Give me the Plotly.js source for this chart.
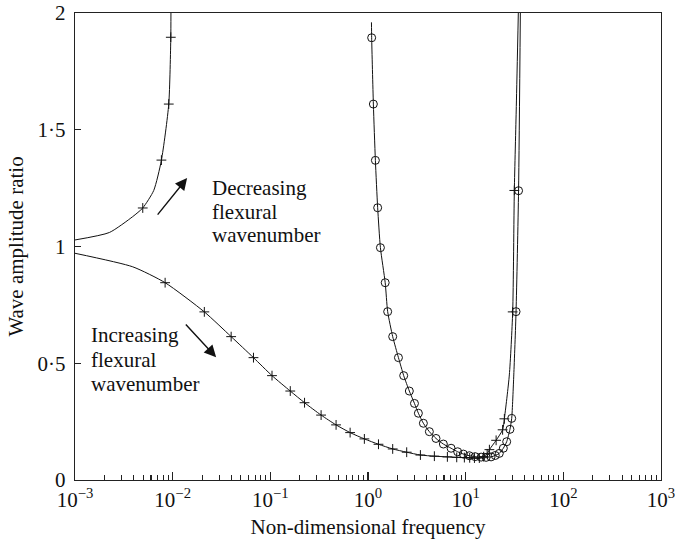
<!DOCTYPE html>
<html><head><meta charset="utf-8">
<script src="https://cdn.plot.ly/plotly-3.0.1.min.js"></script>
<style>html,body{margin:0;padding:0;background:#fff}</style>
</head><body><div id="chart" style="width:675px;height:547px"></div>
<script>
// ---- tick labels ----
const xTickVals = [0.001, 0.01, 0.1, 1, 10, 100, 1000];
const xTickText = ['10<sup>−3</sup>','10<sup>−2</sup>','10<sup>−1</sup>','10<sup>0</sup>','10<sup>1</sup>','10<sup>2</sup>','10<sup>3</sup>'];
const yTickVals = [0, 0.5, 1, 1.5, 2];
const yTickText = ['0', '0·5', '1', '1·5', '2'];
const minorMultipliers = [2, 3, 4, 5, 6, 7, 8, 9];

// ---- upper-left branch (crosses) ----
const upperLineX = [0.001, 0.00225, 0.0039, 0.00494, 0.0064, 0.00767, 0.00912, 0.00957, 0.0096];
const upperLineY = [1.028, 1.06, 1.128, 1.165, 1.24, 1.37, 1.61, 1.896, 2.0];
const upperMarkX = [0.00494, 0.00767, 0.00912, 0.00957];
const upperMarkY = [1.165, 1.37, 1.61, 1.896];

// ---- lower branch (crosses) ----
const lowerMarkX = [0.00837, 0.0211, 0.0397, 0.0672, 0.104, 0.160, 0.224, 0.331, 0.471, 0.656, 0.918, 1.28, 1.79, 2.49, 3.44, 4.78, 6.5, 8.1, 9.7, 11.0, 12.3, 13.8, 15.3, 16.6, 17.5, 20.5, 23.9, 24.9, 30.3, 31.5];
const lowerMarkY = [0.845, 0.72, 0.614, 0.524, 0.447, 0.381, 0.331, 0.278, 0.236, 0.203, 0.176, 0.153, 0.133, 0.119, 0.107, 0.102, 0.099, 0.097, 0.096, 0.095, 0.094, 0.094, 0.100, 0.112, 0.13, 0.17, 0.215, 0.262, 0.72, 1.24];
const lowerLineX = [0.001, 0.0039, 0.00837, 0.0211, 0.0397, 0.0672, 0.104, 0.160, 0.224, 0.331, 0.471, 0.656, 0.918, 1.28, 1.79, 2.49, 3.44, 4.78, 6.5, 8.1, 9.7, 11.0, 12.3, 13.8, 15.3, 16.6, 17.5, 20.5, 23.9, 24.9, 28.0, 30.3, 31.5, 33.0, 34.6];
const lowerLineY = [0.971, 0.913, 0.845, 0.72, 0.614, 0.524, 0.447, 0.381, 0.331, 0.278, 0.236, 0.203, 0.176, 0.153, 0.133, 0.119, 0.107, 0.102, 0.099, 0.097, 0.096, 0.095, 0.094, 0.094, 0.100, 0.112, 0.13, 0.17, 0.215, 0.262, 0.45, 0.72, 1.24, 1.6, 2.0];

// ---- U-shaped curve (circles) ----
const circMarkX = [1.09, 1.135, 1.19, 1.256, 1.34, 1.50, 1.59, 1.79, 2.05, 2.32, 2.65, 2.99, 3.28, 3.69, 4.25, 4.97, 5.91, 7.09, 8.28, 9.47, 10.9, 12.5, 14.4, 16.2, 18.2, 20.1, 22.1, 24.3, 26.3, 28.4, 29.6, 32.8, 34.8];
const circMarkY = [1.894, 1.61, 1.369, 1.166, 0.995, 0.845, 0.721, 0.614, 0.524, 0.447, 0.381, 0.328, 0.286, 0.243, 0.207, 0.178, 0.154, 0.136, 0.121, 0.111, 0.104, 0.100, 0.098, 0.097, 0.099, 0.105, 0.114, 0.136, 0.164, 0.217, 0.264, 0.721, 1.239];
const circLineX = [1.085, 1.09, 1.135, 1.19, 1.256, 1.34, 1.50, 1.59, 1.79, 2.05, 2.32, 2.65, 2.99, 3.28, 3.69, 4.25, 4.97, 5.91, 7.09, 8.28, 9.47, 10.9, 12.5, 14.4, 16.2, 18.2, 20.1, 22.1, 24.3, 26.3, 28.4, 29.6, 31.1, 32.8, 34.8, 36.3];
const circLineY = [1.96, 1.894, 1.61, 1.369, 1.166, 0.995, 0.845, 0.721, 0.614, 0.524, 0.447, 0.381, 0.328, 0.286, 0.243, 0.207, 0.178, 0.154, 0.136, 0.121, 0.111, 0.104, 0.100, 0.098, 0.097, 0.099, 0.105, 0.114, 0.136, 0.164, 0.217, 0.264, 0.45, 0.721, 1.239, 2.0];

const minorVals = [];
for (let e = -3; e < 3; e++) minorMultipliers.forEach(m => minorVals.push(m * Math.pow(10, e)));

const FONT = 'Liberation Serif';
const lineStyle = {color: '#111', width: 1, shape: 'spline', smoothing: 0.6};
const crossMarker = {symbol: 'cross-thin-open', size: 7, color: '#111', line: {color: '#111', width: 1}};
const circMarker = {symbol: 'circle-open', size: 8, color: '#111', line: {color: '#111', width: 1}};

const traces = [
  {x: upperLineX, y: upperLineY, mode: 'lines', line: lineStyle, hoverinfo: 'skip'},
  {x: upperMarkX, y: upperMarkY, mode: 'markers', marker: crossMarker},
  {x: lowerLineX, y: lowerLineY, mode: 'lines', line: lineStyle, hoverinfo: 'skip'},
  {x: lowerMarkX, y: lowerMarkY, mode: 'markers', marker: crossMarker},
  {x: circLineX, y: circLineY, mode: 'lines', line: lineStyle, hoverinfo: 'skip'},
  {x: circMarkX, y: circMarkY, mode: 'markers', marker: circMarker}
];

function txt(t, xl, y) {
  return {text: t, x: xl, y: y, xref: 'x', yref: 'y', xanchor: 'left', yanchor: 'middle', showarrow: false, font: {family: FONT, size: 21, color: '#111'}};
}
function arrow(xh, yh, ax, ay) {
  return {text: '', x: xh, y: yh, xref: 'x', yref: 'y', ax: ax, ay: ay, showarrow: true, arrowhead: 2, arrowsize: 1.7, arrowwidth: 1.4, arrowcolor: '#111', standoff: 0};
}

const layout = {
  width: 675, height: 547,
  margin: {l: 75, r: 14, t: 13, b: 67},
  paper_bgcolor: '#fff', plot_bgcolor: '#fff',
  showlegend: false,
  font: {family: FONT, size: 21, color: '#111'},
  xaxis: {
    type: 'log', range: [-3, 3], showgrid: false, zeroline: false,
    showline: true, linecolor: '#222', linewidth: 1.3, mirror: true,
    ticks: 'inside', ticklen: 8, tickwidth: 1.2, tickcolor: '#222',
    tickmode: 'array', tickvals: xTickVals, ticktext: xTickText,
    ticklabeloverflow: 'allow',
    tickfont: {family: FONT, size: 21, color: '#111'},
    minor: {tickmode: 'array', tickvals: minorVals, ticks: 'inside', ticklen: 5, tickwidth: 1.1, tickcolor: '#222', showgrid: false},
    title: {text: 'Non-dimensional frequency', font: {family: FONT, size: 21, color: '#111'}, standoff: 8}
  },
  yaxis: {
    range: [0, 2], showgrid: false, zeroline: false,
    showline: true, linecolor: '#222', linewidth: 1.3, mirror: true,
    ticks: 'inside', ticklen: 6, tickwidth: 1.2, tickcolor: '#222',
    tickmode: 'array', tickvals: yTickVals, ticktext: yTickText,
    tickfont: {family: FONT, size: 21, color: '#111'},
    ticklabelstandoff: 4,
    title: {text: 'Wave amplitude ratio', font: {family: FONT, size: 21, color: '#111'}, standoff: 8}
  },
  annotations: [
    txt('Decreasing', -1.613, 1.2505),
    txt('flexural', -1.613, 1.148),
    txt('wavenumber', -1.613, 1.049),
    txt('Increasing', -2.8595, 0.621),
    txt('flexural', -2.8595, 0.514),
    txt('wavenumber', -2.8595, 0.411),
    arrow(-1.852, 1.293, -30.7, 38),
    arrow(-1.555, 0.5255, -31.7, -34.3)
  ]
};

Plotly.newPlot('chart', traces, layout, {displayModeBar: false, staticPlot: true});
</script>
</body></html>
